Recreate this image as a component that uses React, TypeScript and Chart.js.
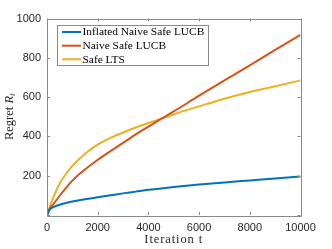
import { useEffect, useRef } from 'react';
import { Chart, registerables } from 'chart.js';

Chart.register(...registerables);

const iterations = [0, 100, 250, 500, 750, 1000, 1500, 2000, 2500, 3000, 3500, 4000, 4500, 5000, 6000, 7000, 8000, 9000, 10000];
const inflatedNaiveSafeLUCB = [0, 25, 40, 52, 61, 69, 80, 90, 100, 110, 119, 128, 135, 142, 155, 166, 176, 186, 196];
const naiveSafeLUCB = [0, 30, 55, 98, 138, 175, 232, 281, 325, 367, 410, 450, 489, 527, 607, 685, 762, 840, 917];
const safeLTS = [0, 40, 90, 160, 210, 250, 312, 358, 392, 420, 445, 468, 490, 513, 553, 592, 626, 655, 685];
const seriesNames = ['Inflated Naive Safe LUCB', 'Naive Safe LUCB', 'Safe LTS'];
const seriesColors = ['#0072BD', '#D95319', '#EDB120'];
const xTicks = [0, 2000, 4000, 6000, 8000, 10000];
const yTicks = [0, 200, 400, 600, 800, 1000];
const xTitle = 'Iteration t';

const SERIF = '"Liberation Serif", "DejaVu Serif", serif';
const SANS = '"Liberation Sans", Arial, sans-serif';

const axesPlugin = {
  id: 'matlabAxes',
  afterDraw(chart: any) {
    const { ctx, chartArea: a, scales } = chart;
    const xs = scales.x;
    const ys = scales.y;
    ctx.save();
    ctx.strokeStyle = '#8a8a8a';
    ctx.lineWidth = 1;
    ctx.beginPath();
    ctx.rect(Math.round(a.left) + 0.5, Math.round(a.top) + 0.5, Math.round(a.right - a.left), Math.round(a.bottom - a.top));
    ctx.stroke();
    const tl = 3;
    ctx.beginPath();
    xTicks.forEach((v) => {
      const px = Math.round(xs.getPixelForValue(v)) + 0.5;
      ctx.moveTo(px, a.bottom);
      ctx.lineTo(px, a.bottom - tl);
      ctx.moveTo(px, a.top);
      ctx.lineTo(px, a.top + tl);
    });
    yTicks.forEach((v) => {
      const py = Math.round(ys.getPixelForValue(v)) + 0.5;
      ctx.moveTo(a.left, py);
      ctx.lineTo(a.left + tl, py);
      ctx.moveTo(a.right, py);
      ctx.lineTo(a.right - tl, py);
    });
    ctx.stroke();

    // axis titles
    ctx.fillStyle = '#262626';
    ctx.font = `12.5px ${SERIF}`;
    ctx.textAlign = 'center';
    ctx.textBaseline = 'middle';
    (ctx as any).letterSpacing = '0.9px';
    ctx.fillText(xTitle, (a.left + a.right) / 2, 239.5);
    (ctx as any).letterSpacing = '0px';

    // y title: "Regret R_t"
    ctx.save();
    ctx.translate(10, (a.top + a.bottom) / 2);
    ctx.rotate(-Math.PI / 2);
    ctx.textAlign = 'left';
    ctx.textBaseline = 'middle';
    const p1 = 'Regret ';
    ctx.font = `12.5px ${SERIF}`;
    const w1 = ctx.measureText(p1).width;
    ctx.font = `italic 12.5px ${SERIF}`;
    const w2 = ctx.measureText('R').width;
    ctx.font = `italic 9px ${SERIF}`;
    const w3 = ctx.measureText('t').width;
    const total = w1 + w2 + w3;
    let x0 = -total / 2;
    ctx.font = `12.5px ${SERIF}`;
    ctx.fillText(p1, x0, 0);
    x0 += w1;
    ctx.font = `italic 12.5px ${SERIF}`;
    ctx.fillText('R', x0, 0);
    x0 += w2;
    ctx.font = `italic 9px ${SERIF}`;
    ctx.fillText('t', x0, 3);
    ctx.restore();

    // legend
    const lx = 57.5, ly = 25.5, lw = 151, lh = 40;
    ctx.fillStyle = '#ffffff';
    ctx.fillRect(lx, ly, lw, lh);
    ctx.strokeStyle = '#8a8a8a';
    ctx.lineWidth = 1;
    ctx.strokeRect(lx, ly, lw, lh);
    const rows = [32, 45.7, 59.3];
    ctx.font = `11.4px ${SERIF}`;
    ctx.textAlign = 'left';
    ctx.textBaseline = 'middle';
    chart.data.datasets.forEach((ds: any, i: number) => {
      const y = rows[i];
      ctx.strokeStyle = ds.borderColor;
      ctx.lineWidth = 2;
      ctx.beginPath();
      ctx.moveTo(62, y);
      ctx.lineTo(81, y);
      ctx.stroke();
      ctx.fillStyle = '#000000';
      ctx.fillText(ds.label, 82.5, y + 0.5);
    });
    ctx.restore();
  },
};

export default function App() {
  const ref = useRef<HTMLCanvasElement>(null);
  useEffect(() => {
    document.body.style.margin = '0';
    const canvas = ref.current!;
    const mk = (vals: number[]) => iterations.map((t, i) => ({ x: t, y: vals[i] }));
    const chart = new Chart(canvas, {
      type: 'line',
      data: {
        datasets: [inflatedNaiveSafeLUCB, naiveSafeLUCB, safeLTS].map((vals, i) => ({
          label: seriesNames[i],
          data: mk(vals),
          borderColor: seriesColors[i],
          backgroundColor: seriesColors[i],
          borderWidth: 2,
          pointRadius: 0,
          cubicInterpolationMode: 'monotone' as const,
        })),
      },
      options: {
        animation: false,
        responsive: false,
        maintainAspectRatio: false,
        layout: { padding: { left: 0, top: 18.5, right: 31.5, bottom: 0 } },
        plugins: { legend: { display: false }, tooltip: { enabled: false } },
        scales: {
          x: {
            type: 'linear',
            min: 0,
            max: 10000,
            afterBuildTicks: (s: any) => { s.ticks = xTicks.map((v) => ({ value: v })); },
            grid: { display: false, drawTicks: false },
            border: { display: false },
            ticks: {
              color: '#262626',
              font: { family: SANS, size: 11 },
              padding: 6,
              maxRotation: 0,
              autoSkip: false,
              callback: (v: any) => String(v),
            },
            afterFit: (s: any) => { s.height = 34; },
          },
          y: {
            type: 'linear',
            min: 0,
            max: 1000,
            afterBuildTicks: (s: any) => { s.ticks = yTicks.map((v) => ({ value: v })); },
            grid: { display: false, drawTicks: false },
            border: { display: false },
            ticks: {
              color: '#262626',
              font: { family: SANS, size: 11 },
              padding: 6,
              callback: (v: any) => (v === 0 ? '' : String(v)),
            },
            afterFit: (s: any) => { s.width = 47; },
          },
        },
      },
      plugins: [axesPlugin],
    });
    return () => chart.destroy();
  }, []);
  return (
    <div style={{ width: 332, height: 249 }}>
      <canvas ref={ref} width={332} height={249} style={{ display: 'block' }} />
    </div>
  );
}
